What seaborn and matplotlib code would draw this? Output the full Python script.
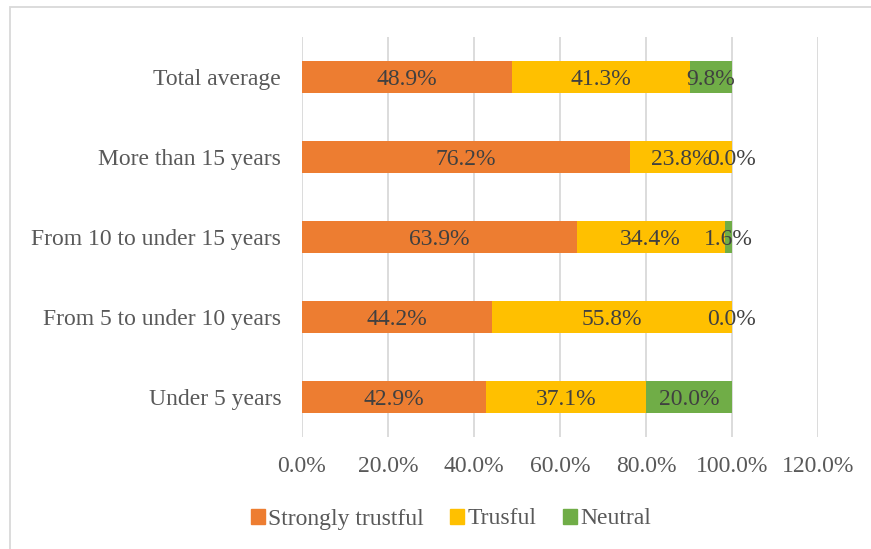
import matplotlib
matplotlib.use("Agg")
import matplotlib.pyplot as plt
import matplotlib.patches as mpatches
import numpy as np
import pandas as pd
import seaborn as sns

# ─── Data ────────────────────────────────────────────────────────────────────

CATEGORIES = ["Total average", "More than 15 years", "From 10 to under 15 years",
              "From 5 to under 10 years", "Under 5 years"]
STRONGLY = [48.9, 76.2, 63.9, 44.2, 42.9]
TRUSFUL = [41.3, 23.8, 34.4, 55.8, 37.1]
NEUTRAL = [9.8, 0.0, 1.6, 0.0, 20.0]
SERIES = ["Strongly trustful", "Trusful", "Neutral"]
COLORS = ["#ED7D31", "#FFC000", "#70AD47"]
X_TICKS = [0, 20, 40, 60, 80, 100, 120]

FS = 17

sns.set_style("white")
plt.rcParams["font.family"] = ["Liberation Serif", "DejaVu Serif"]

df = pd.DataFrame({"cat": CATEGORIES, "s": STRONGLY, "t": TRUSFUL, "n": NEUTRAL})
df["c1"] = df["s"]
df["c2"] = df["s"] + df["t"]
df["c3"] = df["s"] + df["t"] + df["n"]

fig = plt.figure(figsize=(8.71, 5.49), dpi=100)
ax = fig.add_axes([302 / 871, 112 / 549, 516 / 871, 400 / 549])

# stacked bars drawn back to front
for col, color in zip(["c3", "c2", "c1"], COLORS[::-1]):
    sns.barplot(data=df, x=col, y="cat", order=CATEGORIES, color=color,
                width=0.41, orient="h", ax=ax, saturation=1, edgecolor="none")

# data labels centred in each segment
for i, cat in enumerate(CATEGORIES):
    left = 0.0
    for val in (STRONGLY[i], TRUSFUL[i], NEUTRAL[i]):
        ax.text(left + val / 2, i, "{:.1f}%".format(val), ha="center",
                va="center_baseline", fontsize=FS, color="#404040")
        left += val

ax.set_xlim(0, 120)
ax.set_ylim(4.5, -0.5)
ax.set_xticks(X_TICKS)
ax.set_xticklabels(["{:.1f}%".format(v) for v in X_TICKS])
ax.grid(axis="x", color="#D9D9D9", linewidth=1.3)
ax.set_axisbelow(True)
ax.set_xlabel("")
ax.set_ylabel("")
for sp in ax.spines.values():
    sp.set_visible(False)
ax.tick_params(axis="x", length=0, pad=14, labelsize=FS, labelcolor="#595959")
ax.tick_params(axis="y", length=0, pad=15, labelsize=FS, labelcolor="#595959")

handles = [mpatches.Patch(color=c, label=l) for c, l in zip(COLORS, SERIES)]
leg = fig.legend(handles=handles, loc="center", bbox_to_anchor=(451 / 871, 30 / 549),
                 ncol=3, frameon=False, fontsize=FS, handlelength=0.6,
                 handleheight=0.6, handletextpad=0.15, columnspacing=1.1)
for t in leg.get_texts():
    t.set_color("#595959")

fig.patches.append(mpatches.Rectangle((10 / 871, -0.02), 1.0, 1.02 - 7 / 549,
                                      transform=fig.transFigure, fill=False,
                                      edgecolor="#D9D9D9", linewidth=1.3))

fig.savefig("out.png", dpi=100)
plt.close(fig)
